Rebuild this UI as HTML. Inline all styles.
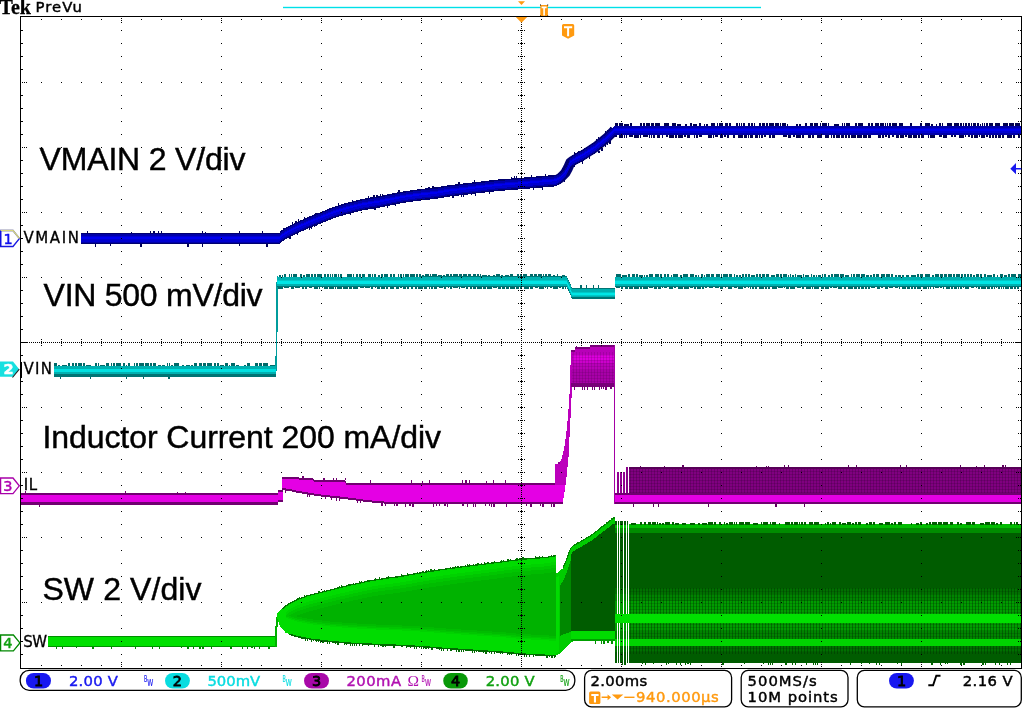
<!DOCTYPE html>
<html><head><meta charset="utf-8"><title>Tek scope capture</title>
<style>
html,body{margin:0;padding:0;background:#fff}
body{width:1024px;height:708px;overflow:hidden;position:relative}
svg{position:absolute;left:0;top:0;display:block}
text{font-family:"Liberation Sans",sans-serif}
.tk{font-family:"DejaVu Sans","Liberation Sans",sans-serif;stroke-width:0.45px;paint-order:stroke}
.big{font-size:32px;fill:#000;stroke:#000;stroke-width:0.45px;letter-spacing:0px}
</style></head><body>
<svg width="1024" height="708" viewBox="0 0 1024 708">
<defs>
<pattern id="vg" width="3" height="3" patternUnits="userSpaceOnUse"><rect width="1" height="3" fill="#002800" opacity=".38"/><rect width="3" height="1" fill="#002800" opacity=".18"/></pattern>
<pattern id="vp" width="3" height="3" patternUnits="userSpaceOnUse"><rect width="1" height="3" fill="#300030" opacity=".26"/><rect width="3" height="1" fill="#300030" opacity=".22"/></pattern>
</defs>
<rect width="1024" height="708" fill="#fff"/>

<g id="ch1" shape-rendering="crispEdges">
<path d="M87 230.5h1v2.5h-1zM131 231.5h1v1.5h-1zM150 230.5h1v2.5h-1zM153 230.5h2v2.5h-2zM158 230.5h1v2.5h-1zM161 230.5h1v2.5h-1zM202 230.5h1v2.5h-1zM205 231.5h1v1.5h-1zM239 230.5h1v2.5h-1zM262 230.5h1v2.5h-1z" fill="#000058"/>
<path d="M95 244h1v2.5h-1zM110 244h1v1.5h-1zM140 244h2v2.5h-2zM187 244h2v2.5h-2zM202 244h1v2.5h-1zM239 244h1v1.5h-1zM266 244h2v2.5h-2z" fill="#000058"/>
<path d="M283 228.2h1v1.5h-1zM292 222.2h1v2.5h-1zM295 220.7h2v2.5h-2zM298 219.4h1v2.5h-1zM304 216.8h1v2.5h-1zM315 213.2h2v1.5h-2zM338 203.4h1v2.5h-1zM352 200.4h1v1.5h-1zM368 195.9h1v2.5h-1zM373 195h2v2.5h-2zM376 194.5h2v2.5h-2zM380 193.9h1v2.5h-1zM382 193.6h1v2.5h-1zM398 190.3h2v2.5h-2zM428 187.1h2v1.5h-2zM432 185.6h2v2.5h-2zM458 182h2v2.5h-2zM474 180.2h1v2.5h-1zM511 177.4h1v1.5h-1zM514 176.2h1v2.5h-1zM516 176h1v2.5h-1zM521 175.6h1v2.5h-1zM531 174.9h1v2.5h-1zM545 173.6h1v2.5h-1z" fill="#000058"/>
<path d="M289 236.9h2v2.5h-2zM297 232.9h1v2.5h-1zM309 227.7h1v2.5h-1zM311 226.9h1v2.5h-1zM314 225.7h1v1.5h-1zM316 224.9h1v1.5h-1zM350 213h1v1.5h-1zM374 207.9h2v2.5h-2zM387 205.6h1v2.5h-1zM395 203.9h1v2.5h-1zM452 195.8h2v2.5h-2zM461 194.8h1v2.5h-1zM463 194.5h1v2.5h-1zM471 193.6h1v1.5h-1zM475 193.2h1v2.5h-1zM489 191.5h1v2.5h-1zM533 187.8h1v2.5h-1zM542 187h1v2.5h-1z" fill="#000058"/>
<path d="M562 168.3h1v2.5h-1zM567 161.9h1v2.5h-1zM574 152h1v2.5h-1zM578 150.8h1v1.5h-1zM596 138.7h1v2.5h-1zM598 137h1v2.5h-1zM605 131.4h1v2.5h-1zM607 129.7h1v2.5h-1zM610 126.7h1v2.5h-1z" fill="#000058"/>
<path d="M564 179.8h1v2.5h-1zM574 165.5h1v1.5h-1zM582 161.1h1v2.5h-1zM589 156.8h1v2.5h-1zM598 150.5h2v2.5h-2zM601 148.1h2v2.5h-2zM605 144.9h1v2.5h-1zM607 143.2h1v1.5h-1zM609 141.2h2v2.5h-2z" fill="#000058"/>
<path d="M615 122.8h3v3.3h-3zM619 122.8h4v3.3h-4zM624 124.1h5v2h-5zM630 122.8h2v3.3h-2zM640 122.8h2v3.3h-2zM643 122.8h2v3.3h-2zM646 122.8h4v3.3h-4zM651 122.8h3v3.3h-3zM655 122.8h5v3.3h-5zM664 122.8h5v3.3h-5zM672 122.8h4v3.3h-4zM677 124.1h4v2h-4zM685 124.1h2v2h-2zM690 122.8h2v3.3h-2zM693 124.1h4v2h-4zM699 122.8h2v3.3h-2zM704 124.1h1v2h-1zM706 124.1h2v2h-2zM711 122.8h4v3.3h-4zM717 122.8h1v3.3h-1zM719 122.8h4v3.3h-4zM725 122.8h3v3.3h-3zM729 122.8h2v3.3h-2zM736 122.8h2v3.3h-2zM739 122.8h1v3.3h-1zM741 122.8h1v3.3h-1zM743 122.8h2v3.3h-2zM748 122.8h2v3.3h-2zM751 122.8h2v3.3h-2zM754 122.8h1v3.3h-1zM759 122.8h2v3.3h-2zM762 122.8h3v3.3h-3zM766 122.8h2v3.3h-2zM769 122.8h5v3.3h-5zM775 122.8h4v3.3h-4zM780 122.8h1v3.3h-1zM782 122.8h4v3.3h-4zM787 124.1h1v2h-1zM796 124.1h2v2h-2zM799 124.1h2v2h-2zM805 122.8h2v3.3h-2zM810 122.8h3v3.3h-3zM814 122.8h4v3.3h-4zM820 122.8h1v3.3h-1zM822 122.8h5v3.3h-5zM828 122.8h1v3.3h-1zM834 124.1h5v2h-5zM842 122.8h1v3.3h-1zM844 122.8h1v3.3h-1zM846 122.8h4v3.3h-4zM855 122.8h2v3.3h-2zM858 122.8h5v3.3h-5zM868 122.8h2v3.3h-2zM871 122.8h2v3.3h-2zM875 122.8h4v3.3h-4zM880 122.8h4v3.3h-4zM885 122.8h1v3.3h-1zM887 122.8h1v3.3h-1zM889 122.8h2v3.3h-2zM892 122.8h5v3.3h-5zM899 122.8h4v3.3h-4zM910 122.8h2v3.3h-2zM920 122.8h2v3.3h-2zM925 122.8h5v3.3h-5zM931 124.1h2v2h-2zM936 124.1h1v2h-1zM939 122.8h2v3.3h-2zM942 122.8h1v3.3h-1zM947 122.8h5v3.3h-5zM954 122.8h5v3.3h-5zM960 122.8h2v3.3h-2zM963 122.8h1v3.3h-1zM965 122.8h2v3.3h-2zM968 122.8h2v3.3h-2zM971 122.8h1v3.3h-1zM973 122.8h3v3.3h-3zM977 122.8h2v3.3h-2zM980 124.1h1v2h-1zM982 122.8h1v3.3h-1zM984 122.8h1v3.3h-1zM986 122.8h2v3.3h-2zM989 122.8h4v3.3h-4zM995 122.8h5v3.3h-5zM1003 122.8h5v3.3h-5zM1009 122.8h5v3.3h-5zM1015 122.8h5v3.3h-5z" fill="#000050"/>
<path d="M615 134.7h2v2h-2zM619 134.7h4v3.4h-4zM624 134.7h1v3.4h-1zM626 134.7h1v3.4h-1zM629 134.7h4v2h-4zM634 134.7h5v3.4h-5zM640 134.7h1v3.4h-1zM643 134.7h5v2h-5zM649 134.7h1v3.4h-1zM651 134.7h1v3.4h-1zM653 134.7h2v3.4h-2zM657 134.7h3v3.4h-3zM662 134.7h1v3.4h-1zM666 134.7h2v2h-2zM669 134.7h5v3.4h-5zM675 134.7h2v3.4h-2zM678 134.7h5v3.4h-5zM684 134.7h2v2h-2zM687 134.7h3v3.4h-3zM694 134.7h1v3.4h-1zM696 134.7h2v3.4h-2zM699 134.7h3v2h-3zM708 134.7h4v3.4h-4zM713 134.7h1v3.4h-1zM715 134.7h3v2h-3zM720 134.7h3v3.4h-3zM724 134.7h2v2h-2zM727 134.7h2v3.4h-2zM733 134.7h2v3.4h-2zM738 134.7h5v3.4h-5zM744 134.7h3v3.4h-3zM748 134.7h1v3.4h-1zM750 134.7h3v3.4h-3zM755 134.7h3v3.4h-3zM759 134.7h1v3.4h-1zM761 134.7h2v3.4h-2zM764 134.7h2v2h-2zM769 134.7h2v3.4h-2zM772 134.7h3v3.4h-3zM783 134.7h4v2h-4zM788 134.7h3v3.4h-3zM793 134.7h2v2h-2zM796 134.7h5v3.4h-5zM802 134.7h2v3.4h-2zM808 134.7h3v3.4h-3zM812 134.7h2v3.4h-2zM817 134.7h5v3.4h-5zM825 134.7h4v3.4h-4zM831 134.7h1v3.4h-1zM833 134.7h2v3.4h-2zM836 134.7h4v3.4h-4zM841 134.7h3v3.4h-3zM845 134.7h2v3.4h-2zM848 134.7h2v3.4h-2zM851 134.7h5v3.4h-5zM857 134.7h5v3.4h-5zM863 134.7h4v3.4h-4zM868 134.7h3v3.4h-3zM878 134.7h3v3.4h-3zM882 134.7h2v3.4h-2zM885 134.7h2v2h-2zM888 134.7h2v3.4h-2zM892 134.7h2v2h-2zM896 134.7h3v3.4h-3zM900 134.7h4v3.4h-4zM905 134.7h2v2h-2zM908 134.7h4v3.4h-4zM913 134.7h4v3.4h-4zM918 134.7h2v3.4h-2zM921 134.7h3v3.4h-3zM928 134.7h1v3.4h-1zM930 134.7h5v3.4h-5zM939 134.7h3v2h-3zM943 134.7h4v3.4h-4zM951 134.7h2v2h-2zM954 134.7h2v2h-2zM959 134.7h5v3.4h-5zM965 134.7h1v2h-1zM968 134.7h2v2h-2zM971 134.7h2v3.4h-2zM974 134.7h4v3.4h-4zM979 134.7h1v2h-1zM981 134.7h4v3.4h-4zM986 134.7h2v2h-2zM989 134.7h2v3.4h-2zM992 134.7h2v3.4h-2zM995 134.7h2v3.4h-2zM998 134.7h3v3.4h-3zM1002 134.7h2v3.4h-2zM1007 134.7h5v3.4h-5zM1013 134.7h2v3.4h-2zM1018 134.7h2v3.4h-2z" fill="#000050"/>
<polyline points="556,180.6 560.6,177.7 565.3,173 568,168 570.3,162.7 572.6,160.8 583.9,154.6 595.2,147.3 606.5,138.2 614.4,130.4" fill="none" stroke="#000070" stroke-width="10" stroke-linejoin="round" shape-rendering="auto"/>
<path d="M81 232.8 L279.3 232.8 L281.4 230.3 L285.6 227.8 L290 225.3 L295.5 222.6 L301.4 220 L309 216.7 L316.9 213.5 L321.5 211.8 L327 209.5 L332.5 207.3 L341.5 204.3 L348.1 202.5 L355.9 200.5 L361.4 199.2 L371.6 197.3 L381.4 195.8 L391 193.7 L401.4 191.7 L410.6 190.4 L421.4 188.9 L436 187.3 L451.2 184.9 L466.9 183.1 L482.5 181.3 L498 179.5 L513.8 178.3 L529.4 177.1 L545 175.7 L556 174.9 L560.6 172 L565.3 167.3 L568 162.3 L570.3 157 L572.6 155.1 L583.9 148.9 L595.2 141.6 L606.5 133 L614.4 125.9 L1021 125.9 L1021 135 L614.4 135 L606.5 143.5 L595.2 153.1 L583.9 160.4 L572.6 166.6 L570.3 168.5 L568 173.8 L565.3 178.8 L560.6 183.5 L556 186.4 L545 187.2 L529.4 188.6 L513.8 189.8 L498 191 L482.5 192.8 L466.9 194.6 L451.2 196.4 L436 198.8 L421.4 200.4 L410.6 201.9 L401.4 203.2 L391 205.2 L381.4 207.3 L371.6 208.8 L361.4 210.7 L355.9 212 L348.1 214 L341.5 215.8 L332.5 218.8 L327 221 L321.5 223.3 L316.9 225 L309 228.2 L301.4 231.5 L295.5 234.1 L290 236.8 L285.6 239.3 L281.4 241.8 L279.3 244.3 L81 244.3Z" fill="#000070" />
<path d="M81 234.3 L279.3 234.3 L281.4 231.8 L285.6 229.3 L290 226.8 L295.5 224.1 L301.4 221.5 L309 218.2 L316.9 215 L321.5 213.3 L327 211 L332.5 208.8 L341.5 205.8 L348.1 204 L355.9 202 L361.4 200.7 L371.6 198.8 L381.4 197.3 L391 195.2 L401.4 193.2 L410.6 191.9 L421.4 190.4 L436 188.8 L451.2 186.4 L466.9 184.6 L482.5 182.8 L498 181 L513.8 179.8 L529.4 178.6 L545 177.2 L556 176.4 L560.6 173.5 L565.3 168.8 L568 163.8 L570.3 158.5 L572.6 156.6 L583.9 150.4 L595.2 143.1 L606.5 134 L614.4 126.2 L1021 126.2 L1021 134.7 L614.4 134.7 L606.5 142.5 L595.2 151.6 L583.9 158.9 L572.6 165.1 L570.3 167 L568 172.3 L565.3 177.3 L560.6 182 L556 184.9 L545 185.7 L529.4 187.1 L513.8 188.3 L498 189.5 L482.5 191.3 L466.9 193.1 L451.2 194.9 L436 197.3 L421.4 198.9 L410.6 200.4 L401.4 201.7 L391 203.7 L381.4 205.8 L371.6 207.3 L361.4 209.2 L355.9 210.5 L348.1 212.5 L341.5 214.3 L332.5 217.3 L327 219.5 L321.5 221.8 L316.9 223.5 L309 226.7 L301.4 230 L295.5 232.6 L290 235.3 L285.6 237.8 L281.4 240.3 L279.3 242.8 L81 242.8Z" fill="#0000a8" />
<path d="M81 236.3 L279.3 236.3 L281.4 233.8 L285.6 231.3 L290 228.8 L295.5 226.1 L301.4 223.5 L309 220.2 L316.9 217 L321.5 215.3 L327 213 L332.5 210.8 L341.5 207.8 L348.1 206 L355.9 204 L361.4 202.7 L371.6 200.8 L381.4 199.3 L391 197.2 L401.4 195.2 L410.6 193.9 L421.4 192.4 L436 190.8 L451.2 188.4 L466.9 186.6 L482.5 184.8 L498 183 L513.8 181.8 L529.4 180.6 L545 179.2 L556 178.4 L560.6 175.5 L565.3 170.8 L568 165.8 L570.3 160.5 L572.6 158.6 L583.9 152.4 L595.2 145.1 L606.5 136 L614.4 128.2 L1021 128.2 L1021 133.4 L614.4 133.4 L606.5 141.2 L595.2 150.3 L583.9 157.6 L572.6 163.8 L570.3 165.7 L568 171 L565.3 176 L560.6 180.7 L556 183.6 L545 184.4 L529.4 185.8 L513.8 187 L498 188.2 L482.5 190 L466.9 191.8 L451.2 193.6 L436 196 L421.4 197.6 L410.6 199.1 L401.4 200.4 L391 202.4 L381.4 204.5 L371.6 206 L361.4 207.9 L355.9 209.2 L348.1 211.2 L341.5 213 L332.5 216 L327 218.2 L321.5 220.5 L316.9 222.2 L309 225.4 L301.4 228.7 L295.5 231.3 L290 234 L285.6 236.5 L281.4 239 L279.3 241.5 L81 241.5Z" fill="#0000d0" />
<path d="M81 237.3 L279.3 237.3 L281.4 234.8 L285.6 232.3 L290 229.8 L295.5 227.1 L301.4 224.5 L309 221.2 L316.9 218 L321.5 216.3 L327 214 L332.5 211.8 L341.5 208.8 L348.1 207 L355.9 205 L361.4 203.7 L371.6 201.8 L381.4 200.3 L391 198.2 L401.4 196.2 L410.6 194.9 L421.4 193.4 L436 191.8 L451.2 189.4 L466.9 187.6 L482.5 185.8 L498 184 L513.8 182.8 L529.4 181.6 L545 180.2 L556 179.4 L560.6 176.5 L565.3 171.8 L568 166.8 L570.3 161.5 L572.6 159.6 L583.9 153.4 L595.2 146.1 L606.5 137 L614.4 129.2 L1021 129.2 L1021 131 L614.4 131 L606.5 138.8 L595.2 147.9 L583.9 155.2 L572.6 161.4 L570.3 163.3 L568 168.6 L565.3 173.6 L560.6 178.3 L556 181.2 L545 182 L529.4 183.4 L513.8 184.6 L498 185.8 L482.5 187.6 L466.9 189.4 L451.2 191.2 L436 193.6 L421.4 195.2 L410.6 196.7 L401.4 198 L391 200 L381.4 202.1 L371.6 203.6 L361.4 205.5 L355.9 206.8 L348.1 208.8 L341.5 210.6 L332.5 213.6 L327 215.8 L321.5 218.1 L316.9 219.8 L309 223 L301.4 226.3 L295.5 228.9 L290 231.6 L285.6 234.1 L281.4 236.6 L279.3 239.1 L81 239.1Z" fill="#0000f0" />
</g>
<g id="ch2" shape-rendering="crispEdges">
<path d="M275.3 371L276.6 276h1.8L276.9 371z" fill="#009c9c"/>
<path d="M54 363.2h3v3.2h-3zM58 364.5h2v1.9h-2zM62 364.5h5v1.9h-5zM68 363.2h2v3.2h-2zM72 363.2h2v3.2h-2zM75 363.2h2v3.2h-2zM78 363.2h4v3.2h-4zM83 363.2h2v3.2h-2zM86 364.5h5v1.9h-5zM95 363.2h2v3.2h-2zM98 363.2h1v3.2h-1zM100 364.5h5v1.9h-5zM106 363.2h3v3.2h-3zM111 363.2h1v3.2h-1zM113 363.2h2v3.2h-2zM116 363.2h5v3.2h-5zM123 363.2h2v3.2h-2zM126 364.5h1v1.9h-1zM128 363.2h2v3.2h-2zM134 363.2h1v3.2h-1zM136 363.2h2v3.2h-2zM139 363.2h5v3.2h-5zM145 363.2h4v3.2h-4zM150 363.2h2v3.2h-2zM153 363.2h3v3.2h-3zM158 364.5h3v1.9h-3zM162 364.5h3v1.9h-3zM167 363.2h1v3.2h-1zM169 363.2h1v3.2h-1zM171 364.5h2v1.9h-2zM174 363.2h5v3.2h-5zM182 364.5h2v1.9h-2zM186 364.5h4v1.9h-4zM191 364.5h2v1.9h-2zM194 363.2h3v3.2h-3zM199 363.2h3v3.2h-3zM203 363.2h3v3.2h-3zM207 363.2h5v3.2h-5zM214 363.2h2v3.2h-2zM217 363.2h2v3.2h-2zM220 364.5h4v1.9h-4zM225 363.2h3v3.2h-3zM229 364.5h1v1.9h-1zM231 363.2h4v3.2h-4zM236 364.5h3v1.9h-3zM244 364.5h2v1.9h-2zM247 363.2h3v3.2h-3zM255 363.2h3v3.2h-3zM259 363.2h3v3.2h-3zM263 363.2h5v3.2h-5zM270 364.5h5v1.9h-5z" fill="#006a6a"/>
<path d="M53.6 365.6 L276 365.6 L276 376.8 L53.6 376.8Z" fill="#007474" />
<path d="M53.6 366.4 L276 366.4 L276 374.4 L53.6 374.4Z" fill="#00b0b0" />
<path d="M53.6 368.8 L276 368.8 L276 372.4 L53.6 372.4Z" fill="#00e0e0" />
<path d="M60 376.8h1v2h-1zM90 376.8h1v2h-1zM126 376.8h1v2h-1zM143 376.8h1v2h-1zM168 376.8h2v2h-2z" fill="#006a6a"/>
<path d="M279 275.4h2v1.8h-2zM282 275.4h1v1.8h-1zM284 274.2h2v3h-2zM289 274.2h1v3h-1zM291 274.2h1v3h-1zM293 274.2h4v3h-4zM300 274.2h2v3h-2zM303 275.4h2v1.8h-2zM306 274.2h4v3h-4zM311 274.2h2v3h-2zM314 274.2h2v3h-2zM317 274.2h5v3h-5zM324 274.2h2v3h-2zM327 274.2h2v3h-2zM330 274.2h1v3h-1zM332 274.2h1v3h-1zM334 274.2h3v3h-3zM338 274.2h1v3h-1zM340 274.2h2v3h-2zM347 274.2h5v3h-5zM353 274.2h1v3h-1zM356 274.2h2v3h-2zM359 274.2h2v3h-2zM362 274.2h3v3h-3zM368 274.2h3v3h-3zM372 274.2h1v3h-1zM374 274.2h2v3h-2zM378 275.4h2v1.8h-2zM381 274.2h2v3h-2zM384 274.2h4v3h-4zM390 274.2h2v3h-2zM393 274.2h2v3h-2zM398 274.2h1v3h-1zM400 274.2h2v3h-2zM403 274.2h1v3h-1zM405 274.2h4v3h-4zM410 274.2h5v3h-5zM416 274.2h2v3h-2zM419 274.2h2v3h-2zM422 275.4h2v1.8h-2zM425 274.2h4v3h-4zM430 274.2h1v3h-1zM432 274.2h5v3h-5zM438 275.4h4v1.8h-4zM443 275.4h2v1.8h-2zM446 274.2h3v3h-3zM450 274.2h2v3h-2zM453 274.2h5v3h-5zM459 274.2h3v3h-3zM463 274.2h4v3h-4zM468 274.2h3v3h-3zM473 274.2h3v3h-3zM477 274.2h2v3h-2zM480 274.2h1v3h-1zM482 275.4h5v1.8h-5zM488 275.4h2v1.8h-2zM493 275.4h2v1.8h-2zM496 274.2h4v3h-4zM501 275.4h2v1.8h-2zM505 275.4h4v1.8h-4zM510 274.2h3v3h-3zM517 274.2h2v3h-2zM520 274.2h2v3h-2zM523 274.2h4v3h-4zM530 274.2h3v3h-3zM534 274.2h3v3h-3zM538 274.2h4v3h-4zM543 274.2h1v3h-1zM545 274.2h2v3h-2zM548 274.2h3v3h-3zM553 275.4h2v1.8h-2zM557 274.2h1v3h-1zM562 275.4h3v1.8h-3z" fill="#006a6a"/>
<path d="M580 285.4h2v2.4h-2zM586 285.4h1v2.4h-1zM593 285.4h1v2.4h-1zM598 285.4h1v2.4h-1z" fill="#006a6a"/>
<path d="M616 274.2h5v3h-5zM622 275.4h5v1.8h-5zM628 274.2h2v3h-2zM632 274.2h3v3h-3zM636 274.2h2v3h-2zM639 275.4h4v1.8h-4zM644 275.4h1v1.8h-1zM646 275.4h2v1.8h-2zM649 274.2h4v3h-4zM655 274.2h4v3h-4zM660 274.2h2v3h-2zM664 274.2h2v3h-2zM667 274.2h2v3h-2zM671 275.4h1v1.8h-1zM673 274.2h5v3h-5zM680 275.4h2v1.8h-2zM683 274.2h5v3h-5zM690 274.2h4v3h-4zM695 275.4h2v1.8h-2zM698 275.4h1v1.8h-1zM701 274.2h2v3h-2zM704 275.4h1v1.8h-1zM706 274.2h4v3h-4zM711 274.2h3v3h-3zM716 274.2h4v3h-4zM721 274.2h1v3h-1zM723 274.2h5v3h-5zM729 274.2h3v3h-3zM734 274.2h1v3h-1zM736 275.4h2v1.8h-2zM739 275.4h2v1.8h-2zM742 274.2h2v3h-2zM745 274.2h2v3h-2zM748 274.2h2v3h-2zM751 275.4h4v1.8h-4zM756 274.2h2v3h-2zM759 274.2h2v3h-2zM762 274.2h3v3h-3zM766 274.2h3v3h-3zM771 275.4h4v1.8h-4zM776 274.2h3v3h-3zM780 274.2h2v3h-2zM783 274.2h4v3h-4zM788 275.4h1v1.8h-1zM790 274.2h1v3h-1zM792 275.4h2v1.8h-2zM795 274.2h1v3h-1zM797 275.4h5v1.8h-5zM803 274.2h1v3h-1zM805 275.4h4v1.8h-4zM811 274.2h1v3h-1zM813 275.4h2v1.8h-2zM816 275.4h1v1.8h-1zM818 275.4h3v1.8h-3zM822 274.2h1v3h-1zM824 274.2h2v3h-2zM828 275.4h2v1.8h-2zM831 274.2h2v3h-2zM834 274.2h5v3h-5zM840 274.2h4v3h-4zM845 275.4h4v1.8h-4zM851 274.2h1v3h-1zM853 274.2h2v3h-2zM856 274.2h4v3h-4zM861 274.2h4v3h-4zM866 275.4h3v1.8h-3zM870 275.4h2v1.8h-2zM873 274.2h2v3h-2zM876 274.2h3v3h-3zM881 274.2h4v3h-4zM886 274.2h4v3h-4zM891 274.2h2v3h-2zM895 275.4h2v1.8h-2zM898 275.4h3v1.8h-3zM902 275.4h2v1.8h-2zM906 275.4h3v1.8h-3zM911 275.4h5v1.8h-5zM917 274.2h2v3h-2zM920 274.2h3v3h-3zM925 274.2h5v3h-5zM932 275.4h2v1.8h-2zM935 274.2h4v3h-4zM940 274.2h3v3h-3zM944 274.2h3v3h-3zM948 274.2h4v3h-4zM953 274.2h2v3h-2zM956 274.2h4v3h-4zM961 274.2h2v3h-2zM964 274.2h2v3h-2zM967 274.2h2v3h-2zM970 274.2h2v3h-2zM973 275.4h2v1.8h-2zM976 274.2h3v3h-3zM980 274.2h2v3h-2zM984 274.2h2v3h-2zM987 275.4h5v1.8h-5zM993 274.2h2v3h-2zM997 275.4h1v1.8h-1zM1000 274.2h3v3h-3zM1004 275.4h3v1.8h-3zM1008 274.2h2v3h-2zM1011 274.2h5v3h-5zM1018 274.2h3v3h-3z" fill="#006a6a"/>
<path d="M278 287.2h5v1.6h-5zM284 287.2h5v1h-5zM291 287.2h3v1.6h-3zM295 287.2h5v1h-5zM302 287.2h2v1.6h-2zM305 287.2h2v1.6h-2zM309 287.2h3v1h-3zM314 287.2h4v1.6h-4zM319 287.2h1v1.6h-1zM322 287.2h1v1h-1zM324 287.2h4v1.6h-4zM329 287.2h5v1.6h-5zM335 287.2h1v1.6h-1zM337 287.2h5v1.6h-5zM343 287.2h5v1.6h-5zM349 287.2h3v1.6h-3zM353 287.2h5v1.6h-5zM360 287.2h4v1h-4zM365 287.2h5v1h-5zM371 287.2h2v1.6h-2zM375 287.2h1v1h-1zM377 287.2h3v1.6h-3zM381 287.2h4v1.6h-4zM386 287.2h2v1.6h-2zM390 287.2h4v1.6h-4zM396 287.2h3v1.6h-3zM400 287.2h2v1h-2zM403 287.2h3v1.6h-3zM407 287.2h2v1.6h-2zM411 287.2h2v1.6h-2zM415 287.2h2v1.6h-2zM418 287.2h5v1.6h-5zM424 287.2h3v1.6h-3zM429 287.2h1v1.6h-1zM431 287.2h2v1.6h-2zM434 287.2h3v1.6h-3zM439 287.2h4v1h-4zM444 287.2h2v1.6h-2zM448 287.2h1v1h-1zM450 287.2h2v1.6h-2zM453 287.2h5v1h-5zM459 287.2h1v1.6h-1zM461 287.2h4v1h-4zM466 287.2h2v1.6h-2zM470 287.2h2v1.6h-2zM473 287.2h3v1.6h-3zM477 287.2h5v1.6h-5zM483 287.2h3v1.6h-3zM487 287.2h5v1.6h-5zM493 287.2h4v1h-4zM498 287.2h3v1.6h-3zM502 287.2h3v1.6h-3zM506 287.2h3v1.6h-3zM510 287.2h5v1.6h-5zM516 287.2h3v1.6h-3zM520 287.2h2v1.6h-2zM524 287.2h5v1.6h-5zM530 287.2h3v1.6h-3zM535 287.2h3v1h-3zM539 287.2h5v1.6h-5zM545 287.2h1v1h-1zM547 287.2h1v1.6h-1zM550 287.2h2v1h-2zM553 287.2h5v1.6h-5zM559 287.2h2v1h-2zM562 287.2h2v1.6h-2zM565 287.2h1v1.6h-1z" fill="#006a6a"/>
<path d="M616 287.2h4v1h-4zM621 287.2h2v1.7h-2zM625 287.2h3v1.7h-3zM629 287.2h4v1.7h-4zM634 287.2h5v1.7h-5zM640 287.2h2v1.7h-2zM643 287.2h5v1.7h-5zM649 287.2h4v1h-4zM654 287.2h3v1.7h-3zM658 287.2h3v1.7h-3zM662 287.2h1v1h-1zM664 287.2h3v1h-3zM669 287.2h4v1.7h-4zM674 287.2h2v1h-2zM678 287.2h5v1.7h-5zM684 287.2h5v1.7h-5zM690 287.2h3v1h-3zM694 287.2h2v1.7h-2zM697 287.2h4v1.7h-4zM702 287.2h2v1.7h-2zM705 287.2h2v1h-2zM709 287.2h4v1h-4zM715 287.2h4v1h-4zM720 287.2h3v1.7h-3zM725 287.2h1v1h-1zM728 287.2h4v1.7h-4zM734 287.2h3v1h-3zM738 287.2h5v1.7h-5zM744 287.2h2v1h-2zM748 287.2h1v1h-1zM750 287.2h1v1.7h-1zM752 287.2h2v1.7h-2zM755 287.2h2v1.7h-2zM759 287.2h5v1.7h-5zM765 287.2h2v1.7h-2zM768 287.2h2v1.7h-2zM772 287.2h5v1.7h-5zM778 287.2h5v1h-5zM784 287.2h1v1h-1zM786 287.2h3v1.7h-3zM790 287.2h5v1.7h-5zM797 287.2h4v1h-4zM802 287.2h2v1.7h-2zM806 287.2h5v1.7h-5zM812 287.2h1v1.7h-1zM814 287.2h5v1.7h-5zM821 287.2h3v1.7h-3zM825 287.2h4v1.7h-4zM830 287.2h2v1h-2zM833 287.2h4v1h-4zM838 287.2h4v1.7h-4zM844 287.2h2v1.7h-2zM848 287.2h5v1.7h-5zM854 287.2h3v1.7h-3zM858 287.2h2v1.7h-2zM861 287.2h3v1.7h-3zM865 287.2h2v1.7h-2zM868 287.2h2v1.7h-2zM871 287.2h4v1h-4zM877 287.2h3v1.7h-3zM881 287.2h2v1h-2zM885 287.2h3v1.7h-3zM889 287.2h4v1h-4zM895 287.2h3v1h-3zM899 287.2h1v1.7h-1zM902 287.2h4v1.7h-4zM907 287.2h3v1.7h-3zM911 287.2h2v1.7h-2zM914 287.2h2v1.7h-2zM917 287.2h4v1.7h-4zM923 287.2h4v1.7h-4zM928 287.2h1v1.7h-1zM930 287.2h1v1.7h-1zM933 287.2h1v1.7h-1zM935 287.2h4v1h-4zM940 287.2h2v1h-2zM943 287.2h1v1.7h-1zM946 287.2h4v1.7h-4zM951 287.2h2v1.7h-2zM954 287.2h3v1.7h-3zM958 287.2h1v1.7h-1zM960 287.2h2v1.7h-2zM963 287.2h1v1h-1zM965 287.2h4v1.7h-4zM971 287.2h3v1h-3zM976 287.2h1v1h-1zM978 287.2h2v1.7h-2zM981 287.2h5v1.7h-5zM987 287.2h3v1.7h-3zM991 287.2h2v1.7h-2zM994 287.2h1v1.7h-1zM996 287.2h1v1h-1zM998 287.2h2v1.7h-2zM1001 287.2h1v1.7h-1zM1003 287.2h1v1.7h-1zM1005 287.2h4v1.7h-4zM1010 287.2h3v1.7h-3zM1014 287.2h2v1.7h-2zM1017 287.2h2v1.7h-2z" fill="#006a6a"/>
<path d="M277 277 L566.5 276 L569 280.4 L571.8 287.6 L614.6 287.6 L615.4 277 L1021 277 L1021 287.4 L615.4 287.4 L614.6 298.8 L571.8 298.8 L569 291.6 L566.5 287.2 L277 287.4Z" fill="#007474" />
<path d="M277 277.2 L566.5 277.2 L569 281.6 L571.8 288.8 L614.6 288.8 L615.4 277.2 L1021 277.2 L1021 285.8 L615.4 285.8 L614.6 297.4 L571.8 297.4 L569 290.2 L566.5 285.8 L277 285.8Z" fill="#00b0b0" />
<path d="M277 280 L566.5 280 L569 284.4 L571.8 291.6 L614.6 291.6 L615.4 280 L1021 280 L1021 284.2 L615.4 284.2 L614.6 295.8 L571.8 295.8 L569 288.6 L566.5 284.2 L277 284.2Z" fill="#00c8c8" />
<path d="M277 281.4 L566.5 281.4 L569 285.8 L571.8 293 L614.6 293 L615.4 281.4 L1021 281.4 L1021 283.6 L615.4 283.6 L614.6 295.2 L571.8 295.2 L569 288 L566.5 283.6 L277 283.6Z" fill="#00e6e6" />
</g>
<g id="ch3" shape-rendering="crispEdges">
<path d="M21 493.2 L278 493.2 L278 504.6 L21 504.6Z" fill="#700070" />
<path d="M21 494.6 L278 494.6 L278 502.3 L21 502.3Z" fill="#e400e4" />
<path d="M25 490.7h1v2.5h-1zM125 490.7h1v2.5h-1zM177 491.7h1v1.5h-1zM185 491.7h1v1.5h-1z" fill="#700070"/>
<path d="M39 504.6h1v2.5h-1z" fill="#700070"/>
<path d="M278 490 L282.5 490 L282.5 501.5 L278 501.5Z" fill="#700070" />
<path d="M278 492 L282.5 492 L282.5 499.5 L278 499.5Z" fill="#e400e4" />
<path d="M282.3 477.4 L313 477.6 L314 480 L345 480.2 L346 482.6 L555.2 482.8 L555.2 504.3 L400 504.3 L385.7 503.7 L373 502.6 L360.4 501.2 L352 500 L343.5 498.8 L331 497.6 L319.6 496.3 L310 494.8 L298.5 493 L290 491 L282.3 490Z" fill="#700070" />
<path d="M282.3 479.4 L313 479.6 L314 482 L345 482.2 L346 484.6 L555.2 484.8 L555.2 502.3 L400 502.3 L385.7 501.7 L373 500.6 L360.4 499.2 L352 498 L343.5 496.8 L331 495.6 L319.6 494.3 L310 492.8 L298.5 491 L290 489 L282.3 488Z" fill="#e400e4" />
<path d="M302 476h2v1.5h-2zM323 477.6h2v2.5h-2zM333 477.6h1v2.5h-1zM336 477.6h1v2.5h-1zM345 477.7h1v2.5h-1zM370 480.1h1v2.5h-1zM411 480.2h1v2.5h-1zM422 481.2h1v1.5h-1zM429 480.2h1v2.5h-1zM462 480.2h1v2.5h-1zM465 480.2h2v2.5h-2zM469 480.2h1v2.5h-1zM486 481.2h1v1.5h-1zM493 480.2h1v2.5h-1zM505 480.3h1v2.5h-1z" fill="#700070"/>
<path d="M285 490.4h1v2.5h-1zM307 494.3h1v2.5h-1zM309 494.6h1v2.5h-1zM325 496.9h1v2.5h-1zM331 497.6h1v2.5h-1zM336 498.1h1v2.5h-1zM339 498.4h1v2.5h-1zM357 500.7h1v2.5h-1zM360 501.1h1v1.5h-1zM381 503.3h2v2.5h-2zM385 503.6h1v2.5h-1zM394 504h1v1.5h-1zM396 504.1h2v1.5h-2zM405 504.3h1v2.5h-1zM409 504.3h2v1.5h-2zM412 504.3h2v2.5h-2zM433 504.3h1v2.5h-1zM436 504.3h1v1.5h-1zM439 504.3h1v1.5h-1zM444 504.3h2v1.5h-2zM447 504.3h1v2.5h-1zM462 504.3h2v1.5h-2zM467 504.3h1v2.5h-1zM473 504.3h1v2.5h-1zM475 504.3h1v2.5h-1zM485 504.3h1v1.5h-1zM489 504.3h1v1.5h-1zM491 504.3h1v2.5h-1zM493 504.3h2v2.5h-2zM506 504.3h1v2.5h-1zM526 504.3h1v1.5h-1zM530 504.3h2v2.5h-2zM540 504.3h1v1.5h-1zM542 504.3h2v2.5h-2zM551 504.3h1v2.5h-1zM553 504.3h2v2.5h-2z" fill="#700070"/>
<path d="M555.2 463.8 L559 463.8 L561.9 458 L564.8 444.8 L566.7 429.5 L568.2 414.3 L569.1 399 L570.1 385.7 L570.8 350.2 L572.4 350.2 L572.2 389.5 L571.4 399 L570.5 418 L569.5 437 L568.6 456.2 L566.7 475.2 L564.8 490.5 L562.5 504.2 L555.2 504.2Z" fill="#bc00bc" />
<path d="M555.2 485 L565 485 L564.2 493 L562.8 502.4 L555.2 502.4Z" fill="#e400e4" />
<path d="M555.2 502.4 L562.8 502.4 L562.5 504.2 L555.2 504.2Z" fill="#700070" />
<path d="M558 461.8h2v2h-2z" fill="#900090"/>
<path d="M571.2 350.2 L575 350.2 L575.2 347.4 L590 347.4 L590.2 344.6 L615 344.6 L615 387.4 L571.2 387.4Z" fill="#b800b8" />
<path d="M572.5 354 L614 354 L614 363 L572.5 363Z" fill="#cc00cc" />
<path d="M572.5 356 L614 356 L614 360 L572.5 360Z" fill="#dc00dc" />
<path d="M571.2 370 L615 370 L615 383 L571.2 383Z" fill="#a800a8" />
<path d="M571.2 382.5 L615 382.5 L615 387.4 L571.2 387.4Z" fill="#780078" />
<path d="M571.2 350.2 L575 350.2 L575 352.2 L571.2 352.2Z" fill="#780078" />
<path d="M575 347.4 L590 347.4 L590 349.4 L575 349.4Z" fill="#780078" />
<path d="M590 344.6 L615 344.6 L615 346.8 L590 346.8Z" fill="#780078" />
<path d="M574 387.4h1v2.4h-1zM582 387.4h1v2.4h-1zM584 387.4h1v2.4h-1zM587 387.4h1v2.4h-1zM592 387.4h1v2.4h-1zM594 387.4h1v2.4h-1zM599 387.4h1v2.4h-1zM601 387.4h1v1.4h-1zM603 387.4h1v1.4h-1zM605 387.4h2v2.4h-2zM610 387.4h2v1.4h-2z" fill="#780078"/>
<path d="M576 346.2h1v1.2h-1z" fill="#700070"/>
<rect x="613.9" y="344.6" width="1.5" height="159" fill="#a400a4"/>
<path d="M614.6 493 L1021 493 L1021 504.2 L614.6 504.2Z" fill="#700070" />
<path d="M614.6 495 L1021 495 L1021 501.5 L614.6 501.5Z" fill="#e400e4" />
<path d="M616.8 472h2v21.4h-2zM619.8 472h2v21.4h-2zM622.8 472h2v21.4h-2z" fill="#900090"/>
<path d="M628.6 467 L1021 467 L1021 493.4 L628.6 493.4Z" fill="#800080" />
<path d="M628.6 467 L1021 467 L1021 469.2 L628.6 469.2Z" fill="#580058" />
<rect x="626" y="467" width="1.8" height="26.4" fill="#880088"/>
<rect x="628.6" y="469.2" width="392.4" height="24.2" fill="url(#vp)"/>
<rect x="572" y="352" width="42" height="31" fill="url(#vp)" opacity=".6"/>
<path d="M640 465.6h1v1.4h-1zM664 465.6h1v1.4h-1zM682 464.6h2v2.4h-2zM756 465.6h1v1.4h-1zM766 465.6h1v1.4h-1zM768 465.6h1v1.4h-1zM784 464.6h1v2.4h-1zM788 464.6h1v2.4h-1zM848 464.6h1v2.4h-1zM856 464.6h1v2.4h-1zM900 464.6h1v2.4h-1zM906 464.6h1v2.4h-1zM960 464.6h1v2.4h-1zM976 465.6h1v1.4h-1zM984 464.6h1v2.4h-1zM1002 464.6h2v2.4h-2zM1005 464.6h1v2.4h-1z" fill="#600060"/>
<path d="M633 504.2h1v2.4h-1zM653 504.2h1v2.4h-1zM658 504.2h1v2.4h-1zM708 504.2h1v2.4h-1zM775 504.2h2v2.4h-2zM804 504.2h1v2.4h-1z" fill="#600060"/>
</g>
<g id="ch4" shape-rendering="crispEdges">
<path d="M47.8 636 L275.6 636 L275.6 647 L47.8 647Z" fill="#009000" />
<path d="M47.8 637.3 L275.6 637.3 L275.6 645.6 L47.8 645.6Z" fill="#00e000" />
<path d="M56 647h1v2.4h-1zM62 647h1v2.4h-1zM76 647h1v1.4h-1zM92 647h2v2.4h-2zM111 647h1v2.4h-1zM135 647h1v2.4h-1zM152 647h1v2.4h-1zM159 647h1v2.4h-1zM181 647h1v1.4h-1zM187 647h2v2.4h-2zM193 647h1v2.4h-1zM199 647h2v2.4h-2zM202 647h2v2.4h-2zM211 647h1v2.4h-1zM230 647h2v2.4h-2zM242 647h1v2.4h-1zM247 647h1v2.4h-1zM251 647h2v1.4h-2zM254 647h1v2.4h-1zM259 647h1v2.4h-1zM268 647h2v2.4h-2z" fill="#009000"/>
<path d="M275 647V630L277 612.5h1.4L277 636V647z" fill="#00b000"/>
<path d="M276.6 616 L277.5 612.8 L282 609 L285.7 606.2 L289.4 603.4 L293.1 601.5 L296.8 599.7 L300.5 598.4 L304.1 597 L307.8 595.7 L311.5 594.8 L315.1 593.9 L318.8 592.9 L322.5 592 L326.2 591 L329.9 590.1 L333.5 589.2 L337.2 588.2 L340.9 587.3 L344.5 586.5 L348.2 585.6 L351.9 584.7 L355 584.1 L358 583.4 L361.1 582.8 L364.2 582.1 L367.2 581.4 L370.3 580.8 L373.4 580.3 L376.4 579.8 L379.5 579.3 L382.6 578.9 L385.6 578.4 L388.7 577.9 L392.5 577.5 L396.2 577 L400 576.6 L403.1 576 L406.1 575.5 L409.2 574.9 L412.3 574.4 L415.4 573.8 L418.4 573.3 L421.5 572.7 L424.6 572.2 L427.6 571.8 L430.7 571.3 L433.8 570.9 L436.8 570.4 L439.9 569.9 L442.9 569.5 L446 569 L449.1 568.6 L452.1 568.2 L455.2 567.8 L458.2 567.4 L461.3 567 L464.3 566.6 L467.4 566.2 L470.4 565.8 L473.5 565.4 L476.6 565 L479.6 564.6 L482.7 564.3 L485.7 563.9 L488.8 563.5 L491.8 563.1 L494.9 562.8 L497.9 562.4 L501 562 L504.4 561.5 L507.8 561.1 L511.2 560.6 L514.7 560.2 L518.1 559.8 L521.5 559.3 L524.7 559 L527.9 558.8 L531.1 558.5 L534.2 558.3 L537.4 558 L540.6 557.8 L543.8 557.5 L547 557.3 L551.3 556.5 L555.6 555.8 L555.6 655.8 L551.3 655.6 L547 655.4 L543.8 655.2 L540.6 655 L537.4 654.9 L534.2 654.7 L531.1 654.5 L527.9 654.4 L524.7 654.2 L521.5 654 L518.1 653.7 L514.7 653.4 L511.2 653 L507.8 652.7 L504.4 652.4 L501 652.1 L497.9 651.9 L494.9 651.7 L491.8 651.5 L488.8 651.3 L485.7 651.1 L482.7 650.9 L479.6 650.7 L476.6 650.5 L473.5 650.3 L470.4 650.1 L467.4 649.9 L464.3 649.7 L461.3 649.5 L458.2 649.3 L455.2 649.1 L452.1 648.9 L449.1 648.7 L446 648.5 L442.9 648.3 L439.9 648 L436.8 647.8 L433.8 647.5 L430.7 647.3 L427.6 647.1 L424.6 646.8 L421.5 646.6 L418.4 646.4 L415.4 646.3 L412.3 646.1 L409.2 645.9 L406.1 645.7 L403.1 645.6 L400 645.4 L397 645.3 L394 645.2 L391 645.1 L388 645 L385 644.9 L382 644.8 L379 644.6 L376 644.5 L373 644.3 L370 644.2 L366.9 644 L363.9 643.9 L360.9 643.7 L357.9 643.6 L354.9 643.4 L351.9 643.3 L348.8 643 L345.6 642.8 L342.5 642.5 L339.3 642.3 L336.2 642 L333 641.8 L329.9 641.5 L326.8 641.1 L323.8 640.8 L320.7 640.4 L317.6 640 L314.6 639.7 L311.5 639.3 L307.8 638.6 L304.1 637.9 L300.5 637.2 L296.8 636.5 L293.1 635.3 L289.4 634 L285.7 632.8 L280.2 626.4 L277.8 620 L276.6 616Z" fill="#00dc00" />
<path d="M285.7 612.2 L289.4 609.4 L293.1 607.5 L296.8 605.7 L300.5 604.4 L304.1 603 L307.8 601.7 L311.5 600.8 L315.1 599.9 L318.8 598.9 L322.5 598 L326.2 597 L329.9 596.1 L333.5 595.2 L337.2 594.2 L340.9 593.3 L344.5 592.5 L348.2 591.6 L351.9 590.7 L355 590.1 L358 589.4 L361.1 588.8 L364.2 588.1 L367.2 587.4 L370.3 586.8 L373.4 586.3 L376.4 585.8 L379.5 585.3 L382.6 584.9 L385.6 584.4 L388.7 583.9 L392.5 583.5 L396.2 583 L400 582.6 L403.1 582 L406.1 581.5 L409.2 580.9 L412.3 580.4 L415.4 579.8 L418.4 579.3 L421.5 578.7 L424.6 578.2 L427.6 577.8 L430.7 577.3 L433.8 576.9 L436.8 576.4 L439.9 575.9 L442.9 575.5 L446 575 L449.1 574.6 L452.1 574.2 L455.2 573.8 L458.2 573.4 L461.3 573 L464.3 572.6 L467.4 572.2 L470.4 571.8 L473.5 571.4 L476.6 571 L479.6 570.6 L482.7 570.3 L485.7 569.9 L488.8 569.5 L491.8 569.1 L494.9 568.8 L497.9 568.4 L501 568 L504.4 567.5 L507.8 567.1 L511.2 566.6 L514.7 566.2 L518.1 565.8 L521.5 565.3 L524.7 565 L527.9 564.8 L531.1 564.5 L534.2 564.3 L537.4 564 L540.6 563.8 L543.8 563.5 L547 563.3 L551.3 562.5 L555.6 561.8 L555.6 640.8 L551.3 640.6 L547 640.4 L543.8 640.2 L540.6 640 L537.4 639.9 L534.2 639.7 L531.1 639.5 L527.9 639.4 L524.7 639.2 L521.5 639 L518.1 638.7 L514.7 638.4 L511.2 638 L507.8 637.7 L504.4 637.4 L501 637.1 L497.9 636.9 L494.9 636.7 L491.8 636.5 L488.8 636.3 L485.7 636.1 L482.7 635.9 L479.6 635.7 L476.6 635.5 L473.5 635.3 L470.4 635.1 L467.4 634.9 L464.3 634.7 L461.3 634.5 L458.2 634.3 L455.2 634.1 L452.1 633.9 L449.1 633.7 L446 633.5 L442.9 633.3 L439.9 633 L436.8 632.8 L433.8 632.5 L430.7 632.3 L427.6 632.1 L424.6 631.8 L421.5 631.6 L418.4 631.4 L415.4 631.3 L412.3 631.1 L409.2 630.9 L406.1 630.7 L403.1 630.6 L400 630.4 L396.2 630.3 L392.5 630.1 L388.7 630 L385.6 629.9 L382.6 629.8 L379.5 629.6 L376.4 629.5 L373.4 629.3 L370.3 629.2 L367.2 629 L364.2 628.9 L361.1 628.7 L358 628.6 L355 628.4 L351.9 628.3 L348.2 628 L344.5 627.7 L340.9 627.4 L337.2 627.1 L333.5 626.8 L329.9 626.5 L326.2 626.1 L322.5 625.6 L318.8 625.2 L315.1 624.7 L311.5 624.3 L307.8 623.6 L304.1 622.9 L300.5 622.2 L296.8 621.5 L293.1 620.3 L289.4 619 L285.7 617.8Z" fill="#00d200" />
<path d="M285.7 615.2 L289.4 612.4 L293.1 610.5 L296.8 608.7 L300.5 607.4 L304.1 606 L307.8 604.7 L311.5 603.8 L315.1 602.9 L318.8 601.9 L322.5 601 L326.2 600 L329.9 599.1 L333.5 598.2 L337.2 597.2 L340.9 596.3 L344.5 595.5 L348.2 594.6 L351.9 593.7 L355 593.1 L358 592.4 L361.1 591.8 L364.2 591.1 L367.2 590.4 L370.3 589.8 L373.4 589.3 L376.4 588.8 L379.5 588.3 L382.6 587.9 L385.6 587.4 L388.7 586.9 L392.5 586.5 L396.2 586 L400 585.6 L403.1 585 L406.1 584.5 L409.2 583.9 L412.3 583.4 L415.4 582.8 L418.4 582.3 L421.5 581.7 L424.6 581.2 L427.6 580.8 L430.7 580.3 L433.8 579.9 L436.8 579.4 L439.9 578.9 L442.9 578.5 L446 578 L449.1 577.6 L452.1 577.2 L455.2 576.8 L458.2 576.4 L461.3 576 L464.3 575.6 L467.4 575.2 L470.4 574.8 L473.5 574.4 L476.6 574 L479.6 573.6 L482.7 573.3 L485.7 572.9 L488.8 572.5 L491.8 572.1 L494.9 571.8 L497.9 571.4 L501 571 L504.4 570.5 L507.8 570.1 L511.2 569.6 L514.7 569.2 L518.1 568.8 L521.5 568.3 L524.7 568 L527.9 567.8 L531.1 567.5 L534.2 567.3 L537.4 567 L540.6 566.8 L543.8 566.5 L547 566.3 L551.3 565.5 L555.6 564.8 L555.6 639.3 L551.3 639.1 L547 638.9 L543.8 638.7 L540.6 638.5 L537.4 638.4 L534.2 638.2 L531.1 638 L527.9 637.9 L524.7 637.7 L521.5 637.5 L518.1 637.2 L514.7 636.9 L511.2 636.5 L507.8 636.2 L504.4 635.9 L501 635.6 L497.9 635.4 L494.9 635.2 L491.8 635 L488.8 634.8 L485.7 634.6 L482.7 634.4 L479.6 634.2 L476.6 634 L473.5 633.8 L470.4 633.6 L467.4 633.4 L464.3 633.2 L461.3 633 L458.2 632.8 L455.2 632.6 L452.1 632.4 L449.1 632.2 L446 632 L442.9 631.8 L439.9 631.5 L436.8 631.3 L433.8 631 L430.7 630.8 L427.6 630.6 L424.6 630.3 L421.5 630.1 L418.4 629.9 L415.4 629.8 L412.3 629.6 L409.2 629.4 L406.1 629.2 L403.1 629.1 L400 628.9 L396.2 628.8 L392.5 628.6 L388.7 628.5 L385.6 628.4 L382.6 628.3 L379.5 628.1 L376.4 628 L373.4 627.8 L370.3 627.7 L367.2 627.5 L364.2 627.4 L361.1 627.2 L358 627.1 L355 626.9 L351.9 626.8 L348.2 626.5 L344.5 626.2 L340.9 625.9 L337.2 625.6 L333.5 625.3 L329.9 625 L326.2 624.6 L322.5 624.1 L318.8 623.7 L315.1 623.2 L311.5 622.8 L307.8 622.1 L304.1 621.4 L300.5 620.7 L296.8 620 L293.1 618.8 L289.4 617.5 L285.7 616.3Z" fill="#00c600" />
<path d="M289.4 615.4 L293.1 613.5 L296.8 611.7 L300.5 610.4 L304.1 609 L307.8 607.7 L311.5 606.8 L315.1 605.9 L318.8 604.9 L322.5 604 L326.2 603 L329.9 602.1 L333.5 601.2 L337.2 600.2 L340.9 599.3 L344.5 598.5 L348.2 597.6 L351.9 596.7 L355 596.1 L358 595.4 L361.1 594.8 L364.2 594.1 L367.2 593.4 L370.3 592.8 L373.4 592.3 L376.4 591.8 L379.5 591.3 L382.6 590.9 L385.6 590.4 L388.7 589.9 L392.5 589.5 L396.2 589 L400 588.6 L403.1 588 L406.1 587.5 L409.2 586.9 L412.3 586.4 L415.4 585.8 L418.4 585.3 L421.5 584.7 L424.6 584.2 L427.6 583.8 L430.7 583.3 L433.8 582.9 L436.8 582.4 L439.9 581.9 L442.9 581.5 L446 581 L449.1 580.6 L452.1 580.2 L455.2 579.8 L458.2 579.4 L461.3 579 L464.3 578.6 L467.4 578.2 L470.4 577.8 L473.5 577.4 L476.6 577 L479.6 576.6 L482.7 576.3 L485.7 575.9 L488.8 575.5 L491.8 575.1 L494.9 574.8 L497.9 574.4 L501 574 L504.4 573.5 L507.8 573.1 L511.2 572.6 L514.7 572.2 L518.1 571.8 L521.5 571.3 L524.7 571 L527.9 570.8 L531.1 570.5 L534.2 570.3 L537.4 570 L540.6 569.8 L543.8 569.5 L547 569.3 L551.3 568.5 L555.6 567.8 L555.6 637.8 L551.3 637.6 L547 637.4 L543.8 637.2 L540.6 637 L537.4 636.9 L534.2 636.7 L531.1 636.5 L527.9 636.4 L524.7 636.2 L521.5 636 L518.1 635.7 L514.7 635.4 L511.2 635 L507.8 634.7 L504.4 634.4 L501 634.1 L497.9 633.9 L494.9 633.7 L491.8 633.5 L488.8 633.3 L485.7 633.1 L482.7 632.9 L479.6 632.7 L476.6 632.5 L473.5 632.3 L470.4 632.1 L467.4 631.9 L464.3 631.7 L461.3 631.5 L458.2 631.3 L455.2 631.1 L452.1 630.9 L449.1 630.7 L446 630.5 L442.9 630.3 L439.9 630 L436.8 629.8 L433.8 629.5 L430.7 629.3 L427.6 629.1 L424.6 628.8 L421.5 628.6 L418.4 628.4 L415.4 628.3 L412.3 628.1 L409.2 627.9 L406.1 627.7 L403.1 627.6 L400 627.4 L396.2 627.3 L392.5 627.1 L388.7 627 L385.6 626.9 L382.6 626.8 L379.5 626.6 L376.4 626.5 L373.4 626.3 L370.3 626.2 L367.2 626 L364.2 625.9 L361.1 625.7 L358 625.6 L355 625.4 L351.9 625.3 L348.2 625 L344.5 624.7 L340.9 624.4 L337.2 624.1 L333.5 623.8 L329.9 623.5 L326.2 623.1 L322.5 622.6 L318.8 622.2 L315.1 621.7 L311.5 621.3 L307.8 620.6 L304.1 619.9 L300.5 619.2 L296.8 618.5 L293.1 617.3 L289.4 616Z" fill="#00bc00" />
<path d="M296.8 615.7 L300.5 614.4 L304.1 613 L307.8 611.7 L311.5 610.8 L315.1 609.9 L318.8 608.9 L322.5 608 L326.2 607 L329.9 606.1 L333.5 605.2 L337.2 604.2 L340.9 603.3 L344.5 602.5 L348.2 601.6 L351.9 600.7 L355 600.1 L358 599.4 L361.1 598.8 L364.2 598.1 L367.2 597.4 L370.3 596.8 L373.4 596.3 L376.4 595.8 L379.5 595.3 L382.6 594.9 L385.6 594.4 L388.7 593.9 L392.5 593.5 L396.2 593 L400 592.6 L403.1 592 L406.1 591.5 L409.2 590.9 L412.3 590.4 L415.4 589.8 L418.4 589.3 L421.5 588.7 L424.6 588.2 L427.6 587.8 L430.7 587.3 L433.8 586.9 L436.8 586.4 L439.9 585.9 L442.9 585.5 L446 585 L449.1 584.6 L452.1 584.2 L455.2 583.8 L458.2 583.4 L461.3 583 L464.3 582.6 L467.4 582.2 L470.4 581.8 L473.5 581.4 L476.6 581 L479.6 580.6 L482.7 580.3 L485.7 579.9 L488.8 579.5 L491.8 579.1 L494.9 578.8 L497.9 578.4 L501 578 L504.4 577.5 L507.8 577.1 L511.2 576.6 L514.7 576.2 L518.1 575.8 L521.5 575.3 L524.7 575 L527.9 574.8 L531.1 574.5 L534.2 574.3 L537.4 574 L540.6 573.8 L543.8 573.5 L547 573.3 L551.3 572.5 L555.6 571.8 L555.6 635.8 L551.3 635.6 L547 635.4 L543.8 635.2 L540.6 635 L537.4 634.9 L534.2 634.7 L531.1 634.5 L527.9 634.4 L524.7 634.2 L521.5 634 L518.1 633.7 L514.7 633.4 L511.2 633 L507.8 632.7 L504.4 632.4 L501 632.1 L497.9 631.9 L494.9 631.7 L491.8 631.5 L488.8 631.3 L485.7 631.1 L482.7 630.9 L479.6 630.7 L476.6 630.5 L473.5 630.3 L470.4 630.1 L467.4 629.9 L464.3 629.7 L461.3 629.5 L458.2 629.3 L455.2 629.1 L452.1 628.9 L449.1 628.7 L446 628.5 L442.9 628.3 L439.9 628 L436.8 627.8 L433.8 627.5 L430.7 627.3 L427.6 627.1 L424.6 626.8 L421.5 626.6 L418.4 626.4 L415.4 626.3 L412.3 626.1 L409.2 625.9 L406.1 625.7 L403.1 625.6 L400 625.4 L396.2 625.3 L392.5 625.1 L388.7 625 L385.6 624.9 L382.6 624.8 L379.5 624.6 L376.4 624.5 L373.4 624.3 L370.3 624.2 L367.2 624 L364.2 623.9 L361.1 623.7 L358 623.6 L355 623.4 L351.9 623.3 L348.2 623 L344.5 622.7 L340.9 622.4 L337.2 622.1 L333.5 621.8 L329.9 621.5 L326.2 621.1 L322.5 620.6 L318.8 620.2 L315.1 619.7 L311.5 619.3 L307.8 618.6 L304.1 617.9 L300.5 617.2 L296.8 616.5Z" fill="#00b200" />
<polyline points="282,609 285.7,606.2 289.4,603.4 293.1,601.5 296.8,599.7 300.5,598.4 304.1,597 307.8,595.7 311.5,594.8 315.1,593.9 318.8,592.9 322.5,592 326.2,591 329.9,590.1 333.5,589.2 337.2,588.2 340.9,587.3 344.5,586.5 348.2,585.6 351.9,584.7 355,584.1 358,583.4 361.1,582.8 364.2,582.1 367.2,581.4 370.3,580.8 373.4,580.3 376.4,579.8 379.5,579.3 382.6,578.9 385.6,578.4 388.7,577.9 392.5,577.5 396.2,577 400,576.6 403.1,576 406.1,575.5 409.2,574.9 412.3,574.4 415.4,573.8 418.4,573.3 421.5,572.7 424.6,572.2 427.6,571.8 430.7,571.3 433.8,570.9 436.8,570.4 439.9,569.9 442.9,569.5 446,569 449.1,568.6 452.1,568.2 455.2,567.8 458.2,567.4 461.3,567 464.3,566.6 467.4,566.2 470.4,565.8 473.5,565.4 476.6,565 479.6,564.6 482.7,564.3 485.7,563.9 488.8,563.5 491.8,563.1 494.9,562.8 497.9,562.4 501,562 504.4,561.5 507.8,561.1 511.2,560.6 514.7,560.2 518.1,559.8 521.5,559.3 524.7,559 527.9,558.8 531.1,558.5 534.2,558.3 537.4,558 540.6,557.8 543.8,557.5 547,557.3 551.3,556.5 555.6,555.8" fill="none" stroke="#007800" stroke-width="1.3"/>
<polyline points="289.4,634 293.1,635.3 296.8,636.5 300.5,637.2 304.1,637.9 307.8,638.6 311.5,639.3 314.6,639.7 317.6,640 320.7,640.4 323.8,640.8 326.8,641.1 329.9,641.5 333,641.8 336.2,642 339.3,642.3 342.5,642.5 345.6,642.8 348.8,643 351.9,643.3 354.9,643.4 357.9,643.6 360.9,643.7 363.9,643.9 366.9,644 370,644.2 373,644.3 376,644.5 379,644.6 382,644.8 385,644.9 388,645 391,645.1 394,645.2 397,645.3 400,645.4 403.1,645.6 406.1,645.7 409.2,645.9 412.3,646.1 415.4,646.3 418.4,646.4 421.5,646.6 424.6,646.8 427.6,647.1 430.7,647.3 433.8,647.5 436.8,647.8 439.9,648 442.9,648.3 446,648.5 449.1,648.7 452.1,648.9 455.2,649.1 458.2,649.3 461.3,649.5 464.3,649.7 467.4,649.9 470.4,650.1 473.5,650.3 476.6,650.5 479.6,650.7 482.7,650.9 485.7,651.1 488.8,651.3 491.8,651.5 494.9,651.7 497.9,651.9 501,652.1 504.4,652.4 507.8,652.7 511.2,653 514.7,653.4 518.1,653.7 521.5,654 524.7,654.2 527.9,654.4 531.1,654.5 534.2,654.7 537.4,654.9 540.6,655 543.8,655.2 547,655.4 551.3,655.6 555.6,655.8" fill="none" stroke="#006c00" stroke-width="1.5"/>
<path d="M285 604.7h1v2h-1zM297 597.6h1v2h-1zM299 596.9h1v2h-1zM304 595.1h1v2h-1zM318 591.1h2v2h-2zM322 590.9h1v1.2h-1zM324 589.6h1v2h-1zM339 585.8h1v2h-1zM341 585.3h1v2h-1zM348 583.6h2v2h-2zM353 582.5h1v2h-1zM356 582.6h1v1.2h-1zM359 581.2h1v2h-1zM361 580.8h1v2h-1zM367 579.5h1v2h-1zM370 579.7h1v1.2h-1zM375 578.1h1v2h-1zM379 577.4h1v2h-1zM383 577.6h2v1.2h-2zM386 577.1h1v1.2h-1zM388 576h1v2h-1zM395 576h2v1.2h-2zM401 574.4h1v2h-1zM407 573.3h1v2h-1zM409 573.8h1v1.2h-1zM417 571.5h1v2h-1zM419 572h2v1.2h-2zM422 571.4h2v1.2h-2zM426 570h1v2h-1zM428 569.7h1v2h-1zM430 569.4h2v2h-2zM434 568.8h1v2h-1zM450 566.5h1v2h-1zM455 565.8h1v2h-1zM457 566.4h2v1.2h-2zM465 565.3h1v1.2h-1zM467 564.3h1v2h-1zM469 564h1v2h-1zM473 563.5h1v2h-1zM477 563h2v2h-2zM481 563.3h1v1.2h-1zM484 562.1h1v2h-1zM487 561.7h2v2h-2zM491 562h2v1.2h-2zM494 560.9h1v2h-1zM501 560h1v2h-1zM503 559.7h1v2h-1zM507 559.2h2v2h-2zM510 558.8h1v2h-1zM516 558h2v2h-2zM519 557.6h2v2h-2zM522 557.3h2v2h-2zM535 556.2h1v2h-1zM539 555.9h1v2h-1zM542 555.7h1v2h-1zM551 555.4h1v1.2h-1z" fill="#007000"/>
<path d="M301 637.3h2v1.4h-2zM305 638.1h1v2.4h-1zM307 638.4h1v2.4h-1zM311 639.2h1v2.4h-1zM313 639.5h1v1.4h-1zM316 639.8h1v2.4h-1zM318 640.1h1v1.4h-1zM320 640.3h1v2.4h-1zM322 640.6h2v2.4h-2zM327 641.2h1v2.4h-1zM329 641.4h1v2.4h-1zM335 641.9h1v2.4h-1zM337 642.1h2v2.4h-2zM344 642.7h1v2.4h-1zM346 642.8h1v2.4h-1zM350 643.1h1v2.4h-1zM352 643.3h1v2.4h-1zM354 643.4h1v2.4h-1zM356 643.5h1v2.4h-1zM359 643.6h1v2.4h-1zM362 643.8h1v2.4h-1zM366 644h1v1.4h-1zM368 644.1h1v1.4h-1zM374 644.4h1v2.4h-1zM378 644.6h1v2.4h-1zM380 644.7h1v1.4h-1zM382 644.8h2v2.4h-2zM385 644.9h1v2.4h-1zM393 645.2h2v2.4h-2zM401 645.5h2v1.4h-2zM406 645.7h1v2.4h-1zM410 646h1v2.4h-1zM414 646.2h1v2.4h-1zM416 646.3h1v2.4h-1zM419 646.5h1v1.4h-1zM421 646.6h1v2.4h-1zM423 646.7h1v2.4h-1zM425 646.9h2v2.4h-2zM428 647.1h1v1.4h-1zM431 647.3h2v2.4h-2zM439 648h1v2.4h-1zM441 648.1h1v2.4h-1zM443 648.3h1v2.4h-1zM447 648.6h1v2.4h-1zM450 648.8h2v2.4h-2zM456 649.2h1v2.4h-1zM458 649.3h2v2.4h-2zM461 649.5h1v2.4h-1zM463 649.6h1v2.4h-1zM472 650.2h1v2.4h-1zM474 650.3h1v2.4h-1zM476 650.5h1v1.4h-1zM478 650.6h2v1.4h-2zM483 650.9h1v2.4h-1zM485 651.1h2v2.4h-2zM489 651.3h1v1.4h-1zM491 651.4h1v2.4h-1zM494 651.6h1v2.4h-1zM496 651.8h1v1.4h-1zM500 652h1v2.4h-1zM502 652.2h1v1.4h-1zM507 652.7h1v2.4h-1zM509 652.8h1v2.4h-1zM511 653h1v2.4h-1zM516 653.5h1v2.4h-1zM518 653.7h1v2.4h-1zM524 654.1h1v2.4h-1zM526 654.2h1v2.4h-1zM529 654.4h1v2.4h-1zM533 654.6h1v2.4h-1zM535 654.7h2v1.4h-2zM546 655.3h2v2.4h-2zM549 655.5h1v1.4h-1zM551 655.6h2v2.4h-2zM554 655.7h1v2.4h-1z" fill="#006800"/>
<path d="M555.6 573.8 L559 571.5 L563 568.2 L566.5 560 L570.5 548.6 L573 546 L591 535.6 L613.6 518 L614.6 518 L614.6 641.3 L573 641.3 L568 645 L563 650 L560 653.5 L555.6 656Z" fill="#00cc00" />
<path d="M559.5 586 L563 581 L566.5 573 L570.5 561 L571.5 556 L571.5 631.5 L566 633.5 L560.5 635.5Z" fill="#008800" />
<path d="M571.2 554 L573.5 551.2 L591 541 L613.6 523.6 L614.6 523.6 L614.6 631 L571.2 631Z" fill="#005c00" />
<path d="M555.6 578 L558.5 576 L558.5 652 L555.6 654Z" fill="#00dc00" />
<rect x="571.2" y="631" width="43.4" height="7.6" fill="#00dc00"/>
<rect x="571.2" y="638.6" width="43.4" height="2.7" fill="#00a000"/>
<polyline points="563,568.2 566.5,560 570.5,548.6 573,546 591,535.6 613.6,518 614.6,518" fill="none" stroke="#008800" stroke-width="1.2"/>
<path d="M595 641.3h1v2.5h-1zM601 641.3h1v2.5h-1zM603 641.3h2v2.5h-2zM607 641.3h2v1.5h-2zM611 641.3h2v2.5h-2z" fill="#009000"/>
<path d="M577 541.7h1v2h-1zM594 532.1h1v1.2h-1zM601 525.8h1v2h-1zM606 521.9h2v2h-2zM611 518h1v2h-1z" fill="#008800"/>
<rect x="615.4" y="524.2" width="405.6" height="3.8" fill="#00bc00"/>
<rect x="615.4" y="528" width="405.6" height="4.5" fill="#008c00"/>
<rect x="615.4" y="532.5" width="405.6" height="55.5" fill="#005c00"/>
<rect x="615.4" y="588" width="405.6" height="6" fill="#007000"/>
<rect x="615.4" y="594" width="405.6" height="7" fill="#008400"/>
<rect x="615.4" y="601" width="405.6" height="13" fill="#009c00"/>
<rect x="615.4" y="614" width="405.6" height="9.2" fill="#00e000"/>
<rect x="615.4" y="623.2" width="405.6" height="7.8" fill="#009c00"/>
<rect x="615.4" y="631" width="405.6" height="7.8" fill="#008400"/>
<rect x="615.4" y="638.8" width="405.6" height="7.2" fill="#00d400"/>
<rect x="615.4" y="646" width="405.6" height="6" fill="#007000"/>
<rect x="615.4" y="652" width="405.6" height="10.8" fill="#005c00"/>
<path d="M631 522.8h5v1.8h-5zM640 521.6h2v3h-2zM644 521.6h2v3h-2zM648 521.6h3v3h-3zM652 521.6h4v3h-4zM657 521.6h1v3h-1zM659 522.8h2v1.8h-2zM662 522.8h2v1.8h-2zM665 521.6h5v3h-5zM672 521.6h2v3h-2zM675 522.8h4v1.8h-4zM682 522.8h4v1.8h-4zM690 522.8h5v1.8h-5zM698 522.8h2v1.8h-2zM702 522.8h5v1.8h-5zM708 521.6h5v3h-5zM714 521.6h2v3h-2zM719 521.6h2v3h-2zM724 521.6h1v3h-1zM726 522.8h2v1.8h-2zM729 521.6h4v3h-4zM734 521.6h1v3h-1zM736 521.6h1v3h-1zM739 521.6h5v3h-5zM745 521.6h5v3h-5zM753 522.8h5v1.8h-5zM761 521.6h1v3h-1zM763 521.6h5v3h-5zM770 521.6h1v3h-1zM772 521.6h4v3h-4zM779 522.8h1v1.8h-1zM785 521.6h5v3h-5zM791 521.6h2v3h-2zM794 521.6h4v3h-4zM799 521.6h1v3h-1zM801 521.6h2v3h-2zM804 521.6h2v3h-2zM809 521.6h4v3h-4zM814 521.6h5v3h-5zM825 522.8h1v1.8h-1zM827 521.6h2v3h-2zM830 522.8h1v1.8h-1zM832 521.6h4v3h-4zM839 521.6h2v3h-2zM842 522.8h4v1.8h-4zM847 521.6h4v3h-4zM852 522.8h2v1.8h-2zM855 521.6h2v3h-2zM858 521.6h3v3h-3zM866 522.8h2v1.8h-2zM869 521.6h3v3h-3zM873 521.6h2v3h-2zM879 522.8h4v1.8h-4zM885 521.6h5v3h-5zM891 522.8h2v1.8h-2zM894 521.6h2v3h-2zM898 521.6h4v3h-4zM911 522.8h1v1.8h-1zM916 522.8h3v1.8h-3zM920 521.6h2v3h-2zM926 522.8h2v1.8h-2zM929 521.6h2v3h-2zM932 521.6h5v3h-5zM938 521.6h4v3h-4zM943 521.6h5v3h-5zM950 521.6h3v3h-3zM957 521.6h2v3h-2zM960 522.8h2v1.8h-2zM966 521.6h5v3h-5zM972 521.6h3v3h-3zM980 522.8h4v1.8h-4zM985 521.6h5v3h-5zM991 521.6h4v3h-4zM996 522.8h2v1.8h-2zM1000 521.6h2v3h-2zM1010 521.6h2v3h-2zM1014 521.6h1v3h-1zM1016 521.6h2v3h-2z" fill="#005c00"/>
<rect x="615.4" y="521" width="13" height="4" fill="#005c00"/>
<path d="M619 662.8h1v1.8h-1zM622 662.8h1v1.8h-1zM624 662.8h2v1.8h-2zM642 662.8h1v1.1h-1zM645 662.8h1v1.8h-1zM653 662.8h1v1.1h-1zM666 662.8h1v1.8h-1zM668 662.8h1v1.1h-1zM676 662.8h1v1.8h-1zM680 662.8h1v1.8h-1zM685 662.8h1v1.8h-1zM687 662.8h2v1.1h-2zM690 662.8h1v1.8h-1zM722 662.8h2v1.8h-2zM744 662.8h1v1.1h-1zM763 662.8h1v1.1h-1zM768 662.8h1v1.8h-1zM770 662.8h1v1.8h-1zM772 662.8h1v1.8h-1zM785 662.8h2v1.8h-2zM792 662.8h1v1.8h-1zM795 662.8h1v1.8h-1zM806 662.8h1v1.8h-1zM813 662.8h1v1.8h-1zM815 662.8h1v1.8h-1zM817 662.8h1v1.8h-1zM850 662.8h1v1.8h-1zM861 662.8h1v1.1h-1zM869 662.8h1v1.1h-1zM876 662.8h1v1.8h-1zM879 662.8h1v1.8h-1zM897 662.8h1v1.1h-1zM901 662.8h1v1.8h-1zM931 662.8h2v1.8h-2zM940 662.8h1v1.8h-1zM945 662.8h1v1.1h-1zM947 662.8h1v1.1h-1zM960 662.8h2v1.8h-2zM963 662.8h2v1.8h-2zM982 662.8h2v1.8h-2zM985 662.8h1v1.8h-1zM995 662.8h1v1.8h-1zM999 662.8h1v1.8h-1zM1007 662.8h1v1.8h-1zM1010 662.8h1v1.8h-1z" fill="#006400"/>
<rect x="629" y="588" width="392" height="26" fill="url(#vg)"/>
<rect x="629" y="623.2" width="392" height="15.6" fill="url(#vg)"/>
<rect x="629" y="646" width="392" height="8" fill="url(#vg)"/>
<path d="M616.6 518h1v147h-1zM619.4 518h1v147h-1zM622.6 518h1v147h-1zM625.8 518h1v147h-1zM628.2 518h1v147h-1z" fill="#fff"/>
<rect x="615.4" y="614" width="14" height="9.2" fill="#00e000"/>
</g>
<g id="grat" shape-rendering="crispEdges" stroke="#000" stroke-width="1" fill="none">
<rect x="20.5" y="16.5" width="1001" height="652" stroke-width="1"/>
<line x1="121.5" y1="30" x2="121.5" y2="660" stroke-dasharray="1 12"/>
<line x1="221.5" y1="30" x2="221.5" y2="660" stroke-dasharray="1 12"/>
<line x1="321.5" y1="30" x2="321.5" y2="660" stroke-dasharray="1 12"/>
<line x1="421.5" y1="30" x2="421.5" y2="660" stroke-dasharray="1 12"/>
<line x1="621.5" y1="30" x2="621.5" y2="660" stroke-dasharray="1 12"/>
<line x1="721.5" y1="30" x2="721.5" y2="660" stroke-dasharray="1 12"/>
<line x1="821.5" y1="30" x2="821.5" y2="660" stroke-dasharray="1 12"/>
<line x1="921.5" y1="30" x2="921.5" y2="660" stroke-dasharray="1 12"/>
<line x1="41" y1="82.5" x2="1010" y2="82.5" stroke-dasharray="1 19"/>
<line x1="41" y1="147.5" x2="1010" y2="147.5" stroke-dasharray="1 19"/>
<line x1="41" y1="212.5" x2="1010" y2="212.5" stroke-dasharray="1 19"/>
<line x1="41" y1="277.5" x2="1010" y2="277.5" stroke-dasharray="1 19"/>
<line x1="41" y1="407.5" x2="1010" y2="407.5" stroke-dasharray="1 19"/>
<line x1="41" y1="472.5" x2="1010" y2="472.5" stroke-dasharray="1 19"/>
<line x1="41" y1="537.5" x2="1010" y2="537.5" stroke-dasharray="1 19"/>
<line x1="41" y1="602.5" x2="1010" y2="602.5" stroke-dasharray="1 19"/>
<line x1="521.5" y1="18" x2="521.5" y2="667" stroke-dasharray="1 1"/>
<line x1="21" y1="342.5" x2="1021" y2="342.5" stroke-dasharray="1 1"/>
<path d="M41.5 339v7M61.5 339v7M81.5 339v7M101.5 339v7M121.5 339v7M141.5 339v7M161.5 339v7M181.5 339v7M201.5 339v7M221.5 339v7M241.5 339v7M261.5 339v7M281.5 339v7M301.5 339v7M321.5 339v7M341.5 339v7M361.5 339v7M381.5 339v7M401.5 339v7M421.5 339v7M441.5 339v7M461.5 339v7M481.5 339v7M501.5 339v7M541.5 339v7M561.5 339v7M581.5 339v7M601.5 339v7M621.5 339v7M641.5 339v7M661.5 339v7M681.5 339v7M701.5 339v7M721.5 339v7M741.5 339v7M761.5 339v7M781.5 339v7M801.5 339v7M821.5 339v7M841.5 339v7M861.5 339v7M881.5 339v7M901.5 339v7M921.5 339v7M941.5 339v7M961.5 339v7M981.5 339v7M1001.5 339v7" stroke-dasharray="1 1"/>
<path d="M518 30.5h7M518 43.5h7M518 56.5h7M518 69.5h7M518 82.5h7M518 95.5h7M518 108.5h7M518 121.5h7M518 134.5h7M518 147.5h7M518 160.5h7M518 173.5h7M518 186.5h7M518 199.5h7M518 212.5h7M518 225.5h7M518 238.5h7M518 251.5h7M518 264.5h7M518 277.5h7M518 290.5h7M518 303.5h7M518 316.5h7M518 329.5h7M518 355.5h7M518 368.5h7M518 381.5h7M518 394.5h7M518 407.5h7M518 420.5h7M518 433.5h7M518 446.5h7M518 459.5h7M518 472.5h7M518 485.5h7M518 498.5h7M518 511.5h7M518 524.5h7M518 537.5h7M518 550.5h7M518 563.5h7M518 576.5h7M518 589.5h7M518 602.5h7M518 615.5h7M518 628.5h7M518 641.5h7M518 654.5h7" stroke-dasharray="1 1"/>
<path d="M521 30.5h1M521 43.5h1M521 56.5h1M521 69.5h1M521 82.5h1M521 95.5h1M521 108.5h1M521 121.5h1M521 134.5h1M521 147.5h1M521 160.5h1M521 173.5h1M521 186.5h1M521 199.5h1M521 212.5h1M521 225.5h1M521 238.5h1M521 251.5h1M521 264.5h1M521 277.5h1M521 290.5h1M521 303.5h1M521 316.5h1M521 329.5h1M521 355.5h1M521 368.5h1M521 381.5h1M521 394.5h1M521 407.5h1M521 420.5h1M521 433.5h1M521 446.5h1M521 459.5h1M521 472.5h1M521 485.5h1M521 498.5h1M521 511.5h1M521 524.5h1M521 537.5h1M521 550.5h1M521 563.5h1M521 576.5h1M521 589.5h1M521 602.5h1M521 615.5h1M521 628.5h1M521 641.5h1M521 654.5h1"/>
<path d="M41.5 19v1M41.5 665v1M61.5 19v1M61.5 665v1M81.5 19v1M81.5 665v1M101.5 19v1M101.5 665v1M121.5 18v5M121.5 662v5M141.5 19v1M141.5 665v1M161.5 19v1M161.5 665v1M181.5 19v1M181.5 665v1M201.5 19v1M201.5 665v1M221.5 18v5M221.5 662v5M241.5 19v1M241.5 665v1M261.5 19v1M261.5 665v1M281.5 19v1M281.5 665v1M301.5 19v1M301.5 665v1M321.5 18v5M321.5 662v5M341.5 19v1M341.5 665v1M361.5 19v1M361.5 665v1M381.5 19v1M381.5 665v1M401.5 19v1M401.5 665v1M421.5 18v5M421.5 662v5M441.5 19v1M441.5 665v1M461.5 19v1M461.5 665v1M481.5 19v1M481.5 665v1M501.5 19v1M501.5 665v1M521.5 18v5M521.5 662v5M541.5 19v1M541.5 665v1M561.5 19v1M561.5 665v1M581.5 19v1M581.5 665v1M601.5 19v1M601.5 665v1M621.5 18v5M621.5 662v5M641.5 19v1M641.5 665v1M661.5 19v1M661.5 665v1M681.5 19v1M681.5 665v1M701.5 19v1M701.5 665v1M721.5 18v5M721.5 662v5M741.5 19v1M741.5 665v1M761.5 19v1M761.5 665v1M781.5 19v1M781.5 665v1M801.5 19v1M801.5 665v1M821.5 18v5M821.5 662v5M841.5 19v1M841.5 665v1M861.5 19v1M861.5 665v1M881.5 19v1M881.5 665v1M901.5 19v1M901.5 665v1M921.5 18v5M921.5 662v5M941.5 19v1M941.5 665v1M961.5 19v1M961.5 665v1M981.5 19v1M981.5 665v1M1001.5 19v1M1001.5 665v1M1018 30.5h3M1018 43.5h3M1018 56.5h3M1018 69.5h3M22 82.5h5M1016 82.5h5M1018 95.5h3M1018 108.5h3M1018 121.5h3M1018 134.5h3M22 147.5h5M1016 147.5h5M1018 160.5h3M1018 173.5h3M1018 186.5h3M1018 199.5h3M22 212.5h5M1016 212.5h5M1018 225.5h3M1018 238.5h3M1018 251.5h3M1018 264.5h3M22 277.5h5M1016 277.5h5M1018 290.5h3M1018 303.5h3M1018 316.5h3M1018 329.5h3M22 342.5h5M1016 342.5h5M1018 355.5h3M1018 368.5h3M1018 381.5h3M1018 394.5h3M22 407.5h5M1016 407.5h5M1018 420.5h3M1018 433.5h3M1018 446.5h3M1018 459.5h3M22 472.5h5M1016 472.5h5M1018 485.5h3M1018 498.5h3M1018 511.5h3M1018 524.5h3M22 537.5h5M1016 537.5h5M1018 550.5h3M1018 563.5h3M1018 576.5h3M1018 589.5h3M22 602.5h5M1016 602.5h5M1018 615.5h3M1018 628.5h3M1018 641.5h3M1018 654.5h3" stroke-dasharray="1 1"/>
<path d="M21 30.5h2M21 43.5h2M21 56.5h2M21 69.5h2M21 95.5h2M21 108.5h2M21 121.5h2M21 134.5h2M21 160.5h2M21 173.5h2M21 186.5h2M21 199.5h2M21 225.5h2M21 238.5h2M21 251.5h2M21 264.5h2M21 290.5h2M21 303.5h2M21 316.5h2M21 329.5h2M21 355.5h2M21 368.5h2M21 381.5h2M21 394.5h2M21 420.5h2M21 433.5h2M21 446.5h2M21 459.5h2M21 485.5h2M21 498.5h2M21 511.5h2M21 524.5h2M21 550.5h2M21 563.5h2M21 576.5h2M21 589.5h2M21 615.5h2M21 628.5h2M21 641.5h2M21 654.5h2"/>
</g>
<rect x="283" y="6.8" width="478" height="1.4" fill="#00e0e8"/>
<path d="M518 1.2h7l-3.5 3.8z" fill="#ff9a10"/>
<path d="M515.8 17h11.4l-5.7 5.8z" fill="#ff9a10"/>
<rect x="540.3" y="5" width="7.6" height="11" fill="#ff9a10"/>
<path d="M541.6 6.6h5v1.6h-1.7v7.2h-1.6v-7.2h-1.7z" fill="#fff"/>
<path d="M540 4.6h1v1h-1zM547.2 4.6h1v1h-1zM540 15.4h1v1h-1zM547.2 15.4h1v1h-1z" fill="#000"/>
<path d="M563.5 24h9.2q1.5 0 1.5 1.5v10l-6.1 3.3l-6.1-3.3v-10q0-1.5 1.5-1.5z" fill="#ff9a10"/>
<path d="M564 26.2h8.2v2h-3.1v8h-2v-8h-3.1z" fill="#fff"/>
<text x="-0.5" y="14.3" style="font-family:'Liberation Serif',serif;font-weight:bold;font-size:20px;stroke:#000;stroke-width:0.3px" textLength="31.5" lengthAdjust="spacingAndGlyphs">Tek</text>
<text class="tk" x="35.4" y="12.3" font-size="14.8" textLength="46.4" lengthAdjust="spacing" stroke="#000">PreVu</text>
<path d="M0.5 230.5h12.5l6.5 8l-6.5 8h-12.5z" fill="#fff" stroke="#1818e0" stroke-width="1.3"/>
<path d="M0.5 230.5h12.5l6.5 8" fill="none" stroke="#d8d878" stroke-width="1.3"/>
<rect x="0" y="231" width="1.4" height="15" fill="#1010e0"/>
<text class="tk" x="3.4" y="244.2" font-size="14.5" fill="#1010f0" stroke="#1010f0">1</text>
<text class="tk" x="23.5" y="243" font-size="15" textLength="55.4" lengthAdjust="spacing" style="stroke-width:0.3px" stroke="#000">VMAIN</text>
<path d="M0 361.5h13l6 7.6l-6 7.6h-13z" fill="#18e0e0"/>
<path d="M12.5 377.5l6.8-8.4" fill="none" stroke="#202020" stroke-width="1.1"/>
<text class="tk" x="3.6" y="374.4" font-size="14.5" fill="#fff" font-weight="bold" stroke="#fff">2</text>
<rect x="21.5" y="362" width="32" height="15.5" fill="#fff"/>
<rect x="20" y="362" width="1.5" height="15.5" fill="#000" shape-rendering="crispEdges"/>
<text class="tk" x="23.5" y="373.7" font-size="15" textLength="28.6" lengthAdjust="spacing" style="stroke-width:0.3px" stroke="#000">VIN</text>
<path d="M0.6 478h12.4l6.3 7.8l-6.3 7.8h-12.4z" fill="#fff" stroke="#a800a8" stroke-width="1.3"/>
<text class="tk" x="3.2" y="491.4" font-size="14.5" fill="#b000b0" stroke="#b000b0">3</text>
<text class="tk" x="23.8" y="489.9" font-size="15" textLength="13.2" lengthAdjust="spacing" style="stroke-width:0.3px" stroke="#000">IL</text>
<path d="M0.6 635h12.8l6.5 7.9l-6.5 7.9h-12.8z" fill="#fff" stroke="#008800" stroke-width="1.3"/>
<text class="tk" x="3.2" y="648.4" font-size="14.5" fill="#10a010" stroke="#10a010">4</text>
<text class="tk" x="23.2" y="647" font-size="15" textLength="24" lengthAdjust="spacing" style="stroke-width:0.3px" stroke="#000">SW</text>
<path d="M1010.3 168.7l5.7-5.6v4.9h5.2v1.4h-5.2v4.9z" fill="#1818f0"/>
<text class="big" x="39.6" y="170" style="letter-spacing:-0.18px">VMAIN 2 V/div</text>
<text class="big" x="43.6" y="305.5" style="letter-spacing:-0.26px">VIN 500 mV/div</text>
<text class="big" x="42.4" y="448" style="letter-spacing:-0.06px">Inductor Current 200 mA/div</text>
<text class="big" x="42.4" y="599.5" style="letter-spacing:0.1px">SW 2 V/div</text>
<rect x="20.2" y="670.4" width="554.6" height="19.9" rx="9" ry="9" fill="#fff" stroke="#000" stroke-width="1.3"/>
<rect x="584.6" y="670.4" width="147" height="36.4" rx="7" ry="7" fill="#fff" stroke="#000" stroke-width="1.3"/>
<rect x="741.2" y="670.4" width="106.8" height="36.4" rx="7" ry="7" fill="#fff" stroke="#000" stroke-width="1.3"/>
<rect x="857.3" y="670.4" width="164" height="36.4" rx="7" ry="7" fill="#fff" stroke="#000" stroke-width="1.3"/>
<rect x="25.9" y="673.1" width="25.1" height="15.4" rx="7.7" ry="7.7" fill="#1818f0"/>
<text class="tk" x="38.5" y="685.7" font-size="14.4" fill="#000" text-anchor="middle" style="stroke-width:0.8px" stroke="#000">1</text>
<text class="tk" x="69" y="685.6" font-size="14.8" fill="#1818f0" textLength="48.8" lengthAdjust="spacing" stroke="#1818f0">2.00 V</text>
<text class="tk" x="144" y="681.7" font-size="9" fill="#1818f0" textLength="3.3" lengthAdjust="spacingAndGlyphs" style="stroke-width:0.2px" stroke="#1818f0">B</text>
<text class="tk" x="147.3" y="685.8" font-size="9" fill="#1818f0" textLength="6" lengthAdjust="spacingAndGlyphs" style="stroke-width:0.2px" stroke="#1818f0">W</text>
<rect x="165" y="673.1" width="24.9" height="15.4" rx="7.7" ry="7.7" fill="#08dce0"/>
<text class="tk" x="177.4" y="685.7" font-size="14.4" fill="#000" text-anchor="middle" style="stroke-width:0.8px" stroke="#000">2</text>
<text class="tk" x="207.4" y="685.6" font-size="14.8" fill="#08dce0" textLength="52.8" lengthAdjust="spacing" stroke="#08dce0">500mV</text>
<text class="tk" x="282.5" y="681.7" font-size="9" fill="#08dce0" textLength="3.3" lengthAdjust="spacingAndGlyphs" style="stroke-width:0.2px" stroke="#08dce0">B</text>
<text class="tk" x="285.8" y="685.8" font-size="9" fill="#08dce0" textLength="6" lengthAdjust="spacingAndGlyphs" style="stroke-width:0.2px" stroke="#08dce0">W</text>
<rect x="304" y="673.1" width="25" height="15.4" rx="7.7" ry="7.7" fill="#a808a8"/>
<text class="tk" x="316.5" y="685.7" font-size="14.4" fill="#000" text-anchor="middle" style="stroke-width:0.8px" stroke="#000">3</text>
<text class="tk" x="346.5" y="685.6" font-size="14.8" fill="#b010b0" textLength="54.6" lengthAdjust="spacing" stroke="#b010b0">200mA</text>
<text x="407.6" y="685.6" style="font-family:'Liberation Serif',serif;font-size:15.5px" fill="#b010b0">Ω</text>
<text class="tk" x="421.6" y="681.7" font-size="9" fill="#b010b0" textLength="3.3" lengthAdjust="spacingAndGlyphs" style="stroke-width:0.2px" stroke="#b010b0">B</text>
<text class="tk" x="424.9" y="685.8" font-size="9" fill="#b010b0" textLength="6" lengthAdjust="spacingAndGlyphs" style="stroke-width:0.2px" stroke="#b010b0">W</text>
<rect x="443.2" y="673.1" width="24.6" height="15.4" rx="7.7" ry="7.7" fill="#089808"/>
<text class="tk" x="455.5" y="685.7" font-size="14.4" fill="#000" text-anchor="middle" style="stroke-width:0.8px" stroke="#000">4</text>
<text class="tk" x="485.7" y="685.6" font-size="14.8" fill="#10a010" textLength="49" lengthAdjust="spacing" stroke="#10a010">2.00 V</text>
<text class="tk" x="560.3" y="681.7" font-size="9" fill="#10a010" textLength="3.3" lengthAdjust="spacingAndGlyphs" style="stroke-width:0.2px" stroke="#10a010">B</text>
<text class="tk" x="563.6" y="685.8" font-size="9" fill="#10a010" textLength="6" lengthAdjust="spacingAndGlyphs" style="stroke-width:0.2px" stroke="#10a010">W</text>
<text class="tk" x="590.6" y="685.6" font-size="14.8" fill="#000" textLength="56.7" lengthAdjust="spacing" stroke="#000">2.00ms</text>
<rect x="589.1" y="691.4" width="11.3" height="12.5" rx="1.5" ry="1.5" fill="#ff9a10"/>
<path d="M591.3 694h7.3v1.9h-2.6v6.6h-2.1v-6.6h-2.6z" fill="#fff"/>
<path d="M601.6 696.6h6v-2.2l3.5 2.9l-3.5 2.9v-2.2h-6z" fill="#ff9a10"/>
<path d="M611.8 694.4h11.5l-5.75 5.2z" fill="#ff9a10"/>
<rect x="624.3" y="696.6" width="10.2" height="1.4" fill="#ff9a10"/>
<text class="tk" x="636" y="702.4" font-size="14.8" fill="#ff9a10" textLength="82.8" lengthAdjust="spacing" stroke="#ff9a10">940.000µs</text>
<text class="tk" x="747.6" y="685.6" font-size="14.8" fill="#000" textLength="69.1" lengthAdjust="spacing" stroke="#000">500MS/s</text>
<text class="tk" x="747.6" y="702.4" font-size="14.8" fill="#000" textLength="90.2" lengthAdjust="spacing" stroke="#000">10M points</text>
<rect x="889" y="673.1" width="24.9" height="15.4" rx="7.7" ry="7.7" fill="#1818f0"/>
<text class="tk" x="901.5" y="685.7" font-size="14.4" fill="#000" text-anchor="middle" style="stroke-width:0.8px" stroke="#000">1</text>
<path d="M928.3 685.2h4.8l3.2-9.4h4.2" fill="none" stroke="#000" stroke-width="1.9"/>
<text class="tk" x="962.8" y="685.6" font-size="14.8" fill="#000" textLength="49.8" lengthAdjust="spacing" stroke="#000">2.16 V</text>
</svg></body></html>
